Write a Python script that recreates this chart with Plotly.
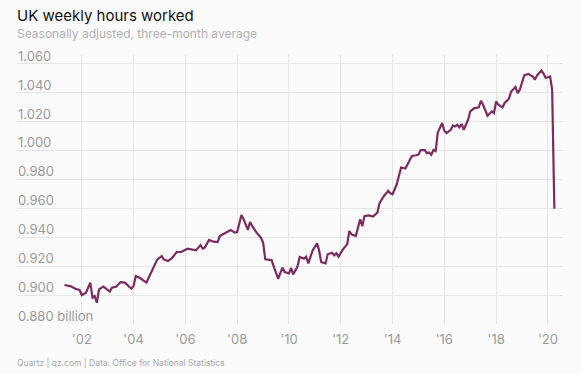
import plotly.graph_objects as go

dates = [
    "2001-05", "2001-08", "2001-10", "2001-12", "2002-01", "2002-03", "2002-05", "2002-06",
    "2002-07", "2002-08", "2002-09", "2002-11", "2003-02", "2003-03", "2003-05", "2003-07",
    "2003-09", "2003-12", "2004-01", "2004-02", "2004-04", "2004-07", "2004-08", "2004-10",
    "2004-12", "2005-02", "2005-03", "2005-05", "2005-07", "2005-09", "2005-11", "2006-02",
    "2006-04", "2006-06", "2006-08", "2006-09", "2006-10", "2006-12", "2007-02", "2007-04",
    "2007-05", "2007-07", "2007-10", "2007-12", "2008-01", "2008-03", "2008-04", "2008-06",
    "2008-07", "2008-08", "2008-10", "2008-12", "2009-01", "2009-02", "2009-05", "2009-06",
    "2009-08", "2009-10", "2009-11", "2010-01", "2010-02", "2010-03", "2010-05", "2010-06",
    "2010-08", "2010-09", "2010-10", "2010-12", "2011-02", "2011-03", "2011-04", "2011-06",
    "2011-07", "2011-09", "2011-10", "2011-11", "2011-12", "2012-02", "2012-04", "2012-05",
    "2012-06", "2012-08", "2012-10", "2012-11", "2012-12", "2013-02", "2013-04", "2013-06",
    "2013-07", "2013-09", "2013-11", "2013-12", "2014-01", "2014-03", "2014-04", "2014-05",
    "2014-07", "2014-09", "2014-10", "2014-12", "2015-01", "2015-02", "2015-04", "2015-05",
    "2015-06", "2015-07", "2015-08", "2015-09", "2015-10", "2015-12", "2016-01", "2016-02",
    "2016-04", "2016-05", "2016-06", "2016-07", "2016-08", "2016-09", "2016-10", "2016-12",
    "2017-01", "2017-03", "2017-05", "2017-06", "2017-07", "2017-09", "2017-10", "2017-11",
    "2017-12", "2018-01", "2018-02", "2018-04", "2018-05", "2018-07", "2018-08", "2018-10",
    "2018-11", "2018-12", "2019-02", "2019-04", "2019-05", "2019-06", "2019-07", "2019-08",
    "2019-10", "2019-11", "2019-12", "2020-02", "2020-03", "2020-04",
]

hours_bn = [
    0.907, 0.906, 0.9044, 0.9035, 0.900, 0.9017, 0.9086, 0.8982,
    0.8993, 0.8947, 0.9039, 0.9058, 0.9024, 0.9051, 0.9058, 0.909,
    0.9086, 0.9044, 0.9062, 0.9131, 0.9118, 0.9086, 0.912, 0.918,
    0.9247, 0.927, 0.9247, 0.9235, 0.9259, 0.9298, 0.9298, 0.9321,
    0.9316, 0.9309, 0.9346, 0.9321, 0.9328, 0.9381, 0.9369, 0.9367,
    0.9408, 0.9427, 0.945, 0.9432, 0.9436, 0.9554, 0.9524, 0.9451,
    0.9505, 0.9477, 0.9432, 0.9397, 0.9363, 0.9247, 0.9242, 0.9197,
    0.9113, 0.919, 0.9159, 0.915, 0.9187, 0.9143, 0.9197, 0.9263,
    0.9252, 0.9266, 0.9219, 0.9309, 0.9358, 0.9311, 0.9228, 0.9219,
    0.9282, 0.9293, 0.9275, 0.9289, 0.9266, 0.9316, 0.9351, 0.9443,
    0.942, 0.9408, 0.9524, 0.9477, 0.9546, 0.9551, 0.9543, 0.957,
    0.9635, 0.9685, 0.972, 0.9704, 0.9697, 0.9766, 0.9835, 0.9882,
    0.9875, 0.9939, 0.9962, 0.9967, 0.9971, 1.0003, 1.0002, 0.9981,
    0.9986, 0.997, 1.0003, 0.9996, 1.0123, 1.019, 1.0136, 1.012,
    1.0143, 1.0173, 1.0166, 1.0178, 1.0159, 1.0183, 1.0143, 1.0212,
    1.027, 1.0293, 1.0298, 1.0344, 1.0316, 1.024, 1.0252, 1.027,
    1.0259, 1.0339, 1.0316, 1.0298, 1.0328, 1.0358, 1.0408, 1.0439,
    1.0397, 1.042, 1.0519, 1.0529, 1.0519, 1.0512, 1.0489, 1.0519,
    1.0552, 1.0531, 1.0501, 1.0512, 1.0420, 0.9597,
]

y_ticks = [0.88, 0.90, 0.92, 0.94, 0.96, 0.98, 1.00, 1.02, 1.04, 1.06]
y_ticktext = ["0.880 billion"] + ["%.3f" % v for v in y_ticks[1:]]
x_ticks = ["2002-01-01", "2004-01-01", "2006-01-01", "2008-01-01", "2010-01-01",
           "2012-01-01", "2014-01-01", "2016-01-01", "2018-01-01", "2020-01-01"]
x_ticktext = ["'02", "'04", "'06", "'08", "'10", "'12", "'14", "'16", "'18", "'20"]

title_text = "UK weekly hours worked"
subtitle_text = "Seasonally adjusted, three-month average"
source_text = "Quartz | qz.com | Data: Office for National Statistics"

FONT = "Inter, Roboto, 'Noto Sans', sans-serif"
GRID = "#e6e6e6"
TICK = "#9a9a9a"

fig = go.Figure()
fig.add_trace(go.Scatter(
    x=dates, y=hours_bn, mode="lines",
    line=dict(color="#7b2c60", width=2.2),
    hoverinfo="skip",
))

annotations = [
    dict(text=title_text, xref="paper", yref="paper", x=0, y=1,
         xshift=-2, yshift=40, xanchor="left", yanchor="middle", showarrow=False,
         font=dict(family=FONT, size=15, color="#111111")),
    dict(text=subtitle_text, xref="paper", yref="paper", x=0, y=1,
         xshift=-2, yshift=22, xanchor="left", yanchor="middle", showarrow=False,
         font=dict(family=FONT, size=12, color="#b0b0b0")),
    dict(text=source_text, xref="paper", yref="paper", x=0, y=0,
         xshift=-2, yshift=-38, xanchor="left", yanchor="middle", showarrow=False,
         font=dict(family=FONT, size=8.5, color="#a8a8a8")),
]
for v, t in zip(y_ticks, y_ticktext):
    annotations.append(dict(
        text=t, xref="paper", yref="y", x=0, y=v, xshift=-1, yshift=8,
        xanchor="left", yanchor="middle", showarrow=False,
        font=dict(family=FONT, size=13, color=TICK)))

fig.update_layout(
    width=581, height=374,
    margin=dict(l=17, r=18, t=55, b=50),
    paper_bgcolor="#fbfbfb", plot_bgcolor="#fbfbfb",
    showlegend=False,
    font=dict(family=FONT, color=TICK, size=13),
    xaxis=dict(
        range=["1999-07-02", "2020-08-01"],
        tickmode="array", tickvals=x_ticks, ticktext=x_ticktext,
        showgrid=True, gridcolor=GRID, gridwidth=1,
        zeroline=False, showline=False, ticks="",
        ticklabelstandoff=6,
        tickfont=dict(size=13, color=TICK),
    ),
    yaxis=dict(
        range=[0.88, 1.066],
        tickmode="array", tickvals=y_ticks,
        showticklabels=False,
        showgrid=True, gridcolor=GRID, gridwidth=1,
        zeroline=False, showline=False, ticks="",
    ),
    annotations=annotations,
)

fig.write_html("out.html", config={"displayModeBar": False},
               post_script="document.body.style.margin='0';")
